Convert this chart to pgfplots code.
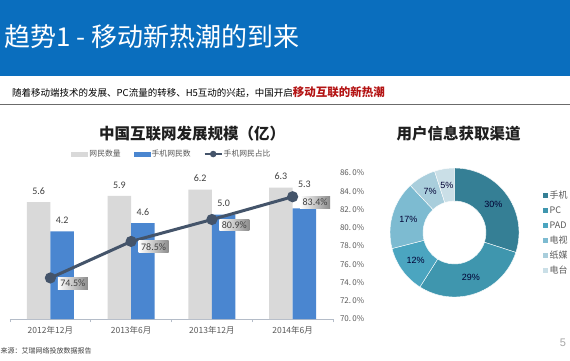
\documentclass[border=0pt]{standalone}
\usepackage{pgfplots}
\pgfplotsset{compat=1.18}
\usepackage{fontspec}
\setmainfont{Noto Sans CJK SC}
\newfontfamily\carl{Carlito}
\newfontfamily\arial{Liberation Sans}
\definecolor{hdr}{HTML}{0A6EBE}
\definecolor{redT}{HTML}{B41414}
\definecolor{barGrey}{HTML}{D9D9D9}
\definecolor{barBlue}{HTML}{4A86D0}
\definecolor{lineC}{HTML}{44546A}
\definecolor{axisC}{HTML}{B4BCC8}
\definecolor{labC}{HTML}{595959}
\definecolor{darkC}{HTML}{404040}
\definecolor{shadeC}{HTML}{8C8C8C}
\definecolor{dA}{HTML}{357F95}
\definecolor{dB}{HTML}{3F96AE}
\definecolor{dC}{HTML}{4BA5C0}
\definecolor{dD}{HTML}{7DBBD1}
\definecolor{dE}{HTML}{A9CEDC}
\definecolor{dF}{HTML}{CADFE7}
\pgfplotsset{barleg/.style={legend image code/.code={\fill[##1, draw=none] (0pt,-2.5pt) rectangle (17pt,2.5pt);}}}
\begin{document}
\begin{tikzpicture}
\useasboundingbox (0pt,0pt) rectangle (570pt,360pt);
\fill[white] (0pt,0pt) rectangle (570pt,360pt);
\begin{scope}[x=1pt,y=1pt]
% header
\fill[hdr] (0,284) rectangle (570,360);
\node[anchor=west, text=white, inner sep=0pt, font=\fontsize{26}{30}\selectfont] at (4,323) {趋势1 - 移动新热潮的到来};
\node[anchor=west, inner sep=0pt, font=\fontsize{9.5}{11}\selectfont] at (12,268) {随着移动端技术的发展、PC流量的转移、H5互动的兴起，中国开启{\fontsize{11.5}{13}\selectfont\bfseries\color{redT}移动互联的新热潮}};
\draw[color=black!58, line width=1.3pt] (0,255.5) -- (570,255.5);
% titles
\node[font=\fontsize{15.5}{18}\selectfont\bfseries, text=black!88] at (192,226) {中国互联网发展规模（亿）};
\node[font=\fontsize{15.5}{18}\selectfont\bfseries, text=black!88] at (458.5,226) {用户信息获取渠道};
% source and page number
\node[anchor=west, inner sep=0pt, text=darkC, font=\fontsize{7}{8}\selectfont] at (0.5,9) {来源：艾瑞网络投放数据报告};
\node[text=black!35, font=\arial\fontsize{11}{12}\selectfont] at (563,17) {5};
\end{scope}

\begin{axis}[
  at={(10pt,41pt)}, anchor=south west, scale only axis,
  width=323pt, height=146pt,
  xmin=-0.5, xmax=3.5, ymin=0, ymax=7,
  axis x line*=bottom, axis y line=none,
  x axis line style={draw=axisC, line width=0.8pt},
  xtick={0,1,2,3},
  xticklabels={2012年12月,2013年6月,2013年12月,2014年6月},
  minor xtick={-0.5,0.5,1.5,2.5,3.5},
  tick align=outside, major tick length=0pt, minor tick length=3pt,
  minor tick style={draw=axisC, line width=0.6pt},
  xticklabel style={font=\fontsize{8.5}{10}\selectfont, text=labC, yshift=-4pt},
  ybar=0pt, bar width=23.5pt,
  point meta=explicit symbolic,
  nodes near coords,
  every node near coord/.append style={font=\carl\fontsize{10}{12}\selectfont, text=darkC, yshift=4.3pt},
  legend columns=3,
  legend style={draw=none, fill=none, at={(0.5,1.13)}, anchor=center,
    font=\fontsize{7.8}{9}\selectfont, text=labC,
    /tikz/every even column/.append style={column sep=12pt},
    nodes={inner sep=1pt}},
]
\addplot[fill=barGrey, draw=none, barleg]
  coordinates {(0,5.6)[5.6] (1,5.9)[5.9] (2,6.2)[6.2] (3,6.3)[6.3]};
\addlegendentry{网民数量}
\addplot[fill=barBlue, draw=none, barleg]
  coordinates {(0,4.2)[4.2] (1,4.6)[4.6] (2,5.0)[5.0] (3,5.3)[\raisebox{13pt}{5.3}]};
\addlegendentry{手机网民数}
\addlegendimage{line legend, sharp plot, color=lineC, line width=2pt, mark=*, mark size=2.2pt}
\addlegendentry{手机网民占比}
\end{axis}

\begin{axis}[
  at={(10pt,41pt)}, anchor=south west, scale only axis,
  width=323pt, height=146pt,
  xmin=-0.5, xmax=3.5, ymin=70, ymax=86,
  axis x line=none, axis y line*=right,
  y axis line style={draw=none},
  ytick={70,72,74,76,78,80,82,84,86},
  yticklabels={70.\,0\%,72.\,0\%,74.\,0\%,76.\,0\%,78.\,0\%,80.\,0\%,82.\,0\%,84.\,0\%,86.\,0\%},
  major tick length=0pt,
  yticklabel style={font=\fontsize{8}{9}\selectfont, text=labC, anchor=west, xshift=3.5pt},
]
\addplot[color=lineC, line width=3pt, mark=*, mark size=4pt,
  point meta=explicit symbolic, nodes near coords,
  every node near coord/.append style={anchor=north west, xshift=6pt, yshift=2pt,
    left color=white, right color=shadeC, inner sep=2.5pt, text=darkC,
    font=\carl\fontsize{10}{12}\selectfont}]
  coordinates {(0,74.5)[74.5\%] (1,78.5)[78.5\%] (2,80.9)[80.9\%] (3,83.4)[83.4\%]};
\end{axis}

% donut
\begin{scope}[shift={(454.5pt,127.5pt)}]
\gdef\curang{90}
\foreach \p/\c/\lab in {30/dA/30\%,29/dB/29\%,12/dC/12\%,17/dD/17\%,7/dE/7\%,5/dF/5\%}{
  \pgfmathsetmacro{\a}{\curang}
  \pgfmathsetmacro{\b}{\curang-3.6*\p}
  \pgfmathsetmacro{\m}{(\a+\b)/2}
  \fill[\c, draw=white, line width=0.4pt] (\a:64.5pt) arc[start angle=\a, end angle=\b, radius=64.5pt]
     -- (\b:31.5pt) arc[start angle=\b, end angle=\a, radius=31.5pt] -- cycle;
  \node[text=black!80!blue, font=\arial\fontsize{9}{10}\selectfont] at (\m:48pt) {\lab};
  \xdef\curang{\b}
}
\end{scope}
% donut legend
\begin{scope}[x=1pt,y=1pt]
\foreach \c/\t [count=\i from 0] in {dA/手机,dB/PC,dC/PAD,dD/电视,dE/纸媒,dF/电台}{
  \pgfmathsetmacro{\yy}{165-15*\i}
  \fill[\c] (542.5,\yy-2.5) rectangle (547.5,\yy+2.5);
  \node[anchor=west, inner sep=0pt, text=labC, font=\fontsize{9}{10}\selectfont] at (549.5,\yy) {\t};
}
\end{scope}
\end{tikzpicture}
\end{document}
